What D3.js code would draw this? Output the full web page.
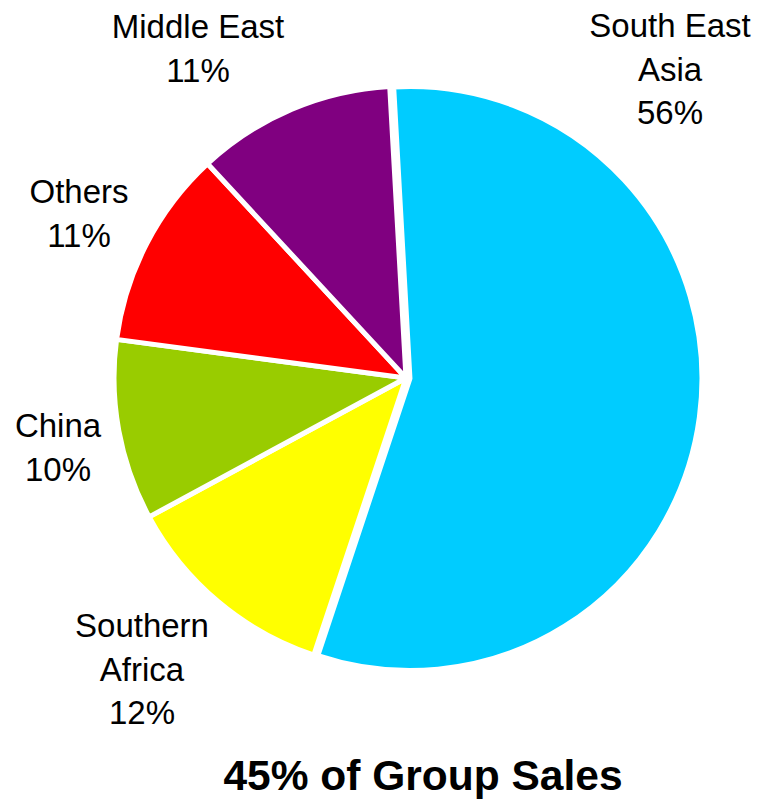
<!DOCTYPE html>
<html>
<head>
<meta charset="utf-8">
<script src="https://cdn.jsdelivr.net/npm/d3@7"></script>
<style>
  html, body { margin: 0; padding: 0; background: #fff; }
  svg { display: block; }
  text { font-family: "Liberation Sans", Arial, sans-serif; fill: #000; }
</style>
</head>
<body>
<svg id="chart" width="759" height="799"></svg>
<script>
// Regional share of sales, clockwise from the top
const regions = ["South East Asia", "Southern Africa", "China", "Others", "Middle East"];
const shares = [56, 12, 10, 11, 11];
const colors = ["#00CCFF", "#FFFF00", "#99CC00", "#FF0000", "#800080"];
// Label lines per region (name may wrap) and anchor positions
const labelLines = [["South East", "Asia"], ["Southern", "Africa"], ["China"], ["Others"], ["Middle East"]];
const labelPos = [[670, 37], [142, 637], [58, 437], [79, 203], [198, 38]];
const title = "45% of Group Sales";

const svg = d3.select("#chart");
const cx = 406, cy = 378, radius = 292;
const startDeg = -3.2;

const pie = d3.pie()
  .value(d => d)
  .sort(null)
  .startAngle(startDeg * Math.PI / 180)
  .endAngle(startDeg * Math.PI / 180 + 2 * Math.PI);

const arc = d3.arc().innerRadius(0).outerRadius(radius);
const arcs = pie(shares);

const g = svg.append("g").attr("transform", `translate(${cx},${cy})`);

g.selectAll("path")
  .data(arcs)
  .join("path")
  .attr("d", arc)
  .attr("fill", (d, i) => colors[i])
  .attr("stroke", "#fff")
  .attr("stroke-width", 5)
  .attr("stroke-linejoin", "round")
  .attr("transform", (d, i) => {
    // largest slice pulled slightly outward
    if (i !== 0) return null;
    const mid = (d.startAngle + d.endAngle) / 2;
    const off = 4;
    return `translate(${off * Math.sin(mid)},${-off * Math.cos(mid)})`;
  });

// Labels: region name lines followed by the percentage
const lineGap = 43.5;
regions.forEach((r, i) => {
  const [x, y] = labelPos[i];
  const lines = labelLines[i].concat([shares[i] + "%"]);
  const t = svg.append("text")
    .attr("x", x)
    .attr("y", y)
    .attr("text-anchor", "middle")
    .style("font-size", "33px");
  lines.forEach((ln, k) => {
    t.append("tspan")
      .attr("x", x)
      .attr("y", y + k * lineGap)
      .text(ln);
  });
});

svg.append("text")
  .attr("x", 423)
  .attr("y", 790)
  .attr("text-anchor", "middle")
  .style("font-size", "42.5px")
  .style("font-weight", "bold")
  .text(title);
</script>
</body>
</html>
